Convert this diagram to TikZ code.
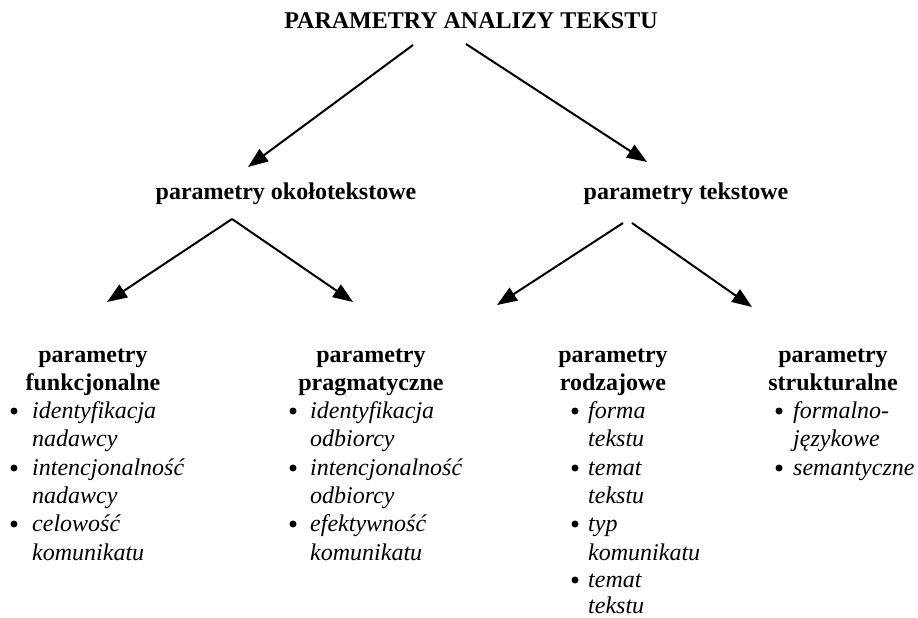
\documentclass[tikz,border=0pt]{standalone}
\usepackage{fontspec}
\setmainfont{Liberation Serif}
\usetikzlibrary{arrows.meta}
\begin{document}
\begin{tikzpicture}[x=1pt,y=-1pt,
  every node/.style={inner sep=0pt},
  head/.style={font=\fontsize{24}{28}\selectfont\bfseries, anchor=base},
  item/.style={font=\fontsize{24}{28}\selectfont\itshape, anchor=base west},
  bul/.style={circle, fill=black, minimum size=7pt, inner sep=0pt},
  arr/.style={line width=2pt, -{Triangle[length=20pt,width=15pt]}}]
\useasboundingbox (0,0) rectangle (918,618);
% titles
\node[head] (title) at (471,29) {PARAMETRY ANALIZY TEKSTU};
\node[head] (okolo) at (286,199) {parametry okołotekstowe};
\node[head] (tekst) at (686,199) {parametry tekstowe};
% arrow end points
\coordinate (a1s) at (413,45);  \coordinate (a1e) at (248,167);
\coordinate (a2s) at (466,44);  \coordinate (a2e) at (647,162);
\coordinate (bs)  at (232,219);
\coordinate (b1e) at (107,302); \coordinate (b2e) at (353,302);
\coordinate (c1s) at (623,223); \coordinate (c1e) at (497,305);
\coordinate (c2s) at (632,223); \coordinate (c2e) at (752,307);
\draw[arr] (a1s) -- (a1e);
\draw[arr] (a2s) -- (a2e);
\draw[arr] (bs) -- (b1e);
\draw[arr] (bs) -- (b2e);
\draw[arr] (c1s) -- (c1e);
\draw[arr] (c2s) -- (c2e);
% column 1
\node[head] (h1a) at (93,362) {parametry};
\node[head] (h1b) at (93,390) {funkcjonalne};
\node[bul] (b1a) at (14,411) {};
\node[item] (i1a) at (32,418) {identyfikacja};
\node[item] (i1b) at (32,446) {nadawcy};
\node[bul] (b1b) at (14,468) {};
\node[item] (i1c) at (32,475) {intencjonalność};
\node[item] (i1d) at (32,503) {nadawcy};
\node[bul] (b1c) at (14,524) {};
\node[item] (i1e) at (32,531) {celowość};
\node[item] (i1f) at (32,560) {komunikatu};
% column 2
\node[head] (h2a) at (371,362) {parametry};
\node[head] (h2b) at (371,390) {pragmatyczne};
\node[bul] (b2a) at (293,411) {};
\node[item] (i2a) at (310,418) {identyfikacja};
\node[item] (i2b) at (310,446) {odbiorcy};
\node[bul] (b2b) at (293,468) {};
\node[item] (i2c) at (310,475) {intencjonalność};
\node[item] (i2d) at (310,503) {odbiorcy};
\node[bul] (b2c) at (293,524) {};
\node[item] (i2e) at (310,531) {efektywność};
\node[item] (i2f) at (310,560) {komunikatu};
% column 3
\node[head] (h3a) at (613,362) {parametry};
\node[head] (h3b) at (613,390) {rodzajowe};
\node[bul] (b3a) at (575,411) {};
\node[item] (i3a) at (588,418) {forma};
\node[item] (i3b) at (588,446) {tekstu};
\node[bul] (b3b) at (575,468) {};
\node[item] (i3c) at (588,475) {temat};
\node[item] (i3d) at (588,503) {tekstu};
\node[bul] (b3c) at (575,524) {};
\node[item] (i3e) at (588,531) {typ};
\node[item] (i3f) at (588,560) {komunikatu};
\node[bul] (b3d) at (575,580) {};
\node[item] (i3g) at (588,587) {temat};
\node[item] (i3h) at (588,613) {tekstu};
% column 4
\node[head] (h4a) at (833,362) {parametry};
\node[head] (h4b) at (833,390) {strukturalne};
\node[bul] (b4a) at (779,411) {};
\node[item] (i4a) at (793,418) {formalno-};
\node[item] (i4b) at (793,446) {językowe};
\node[bul] (b4b) at (779,468) {};
\node[item] (i4c) at (793,475) {semantyczne};
\end{tikzpicture}
\end{document}
